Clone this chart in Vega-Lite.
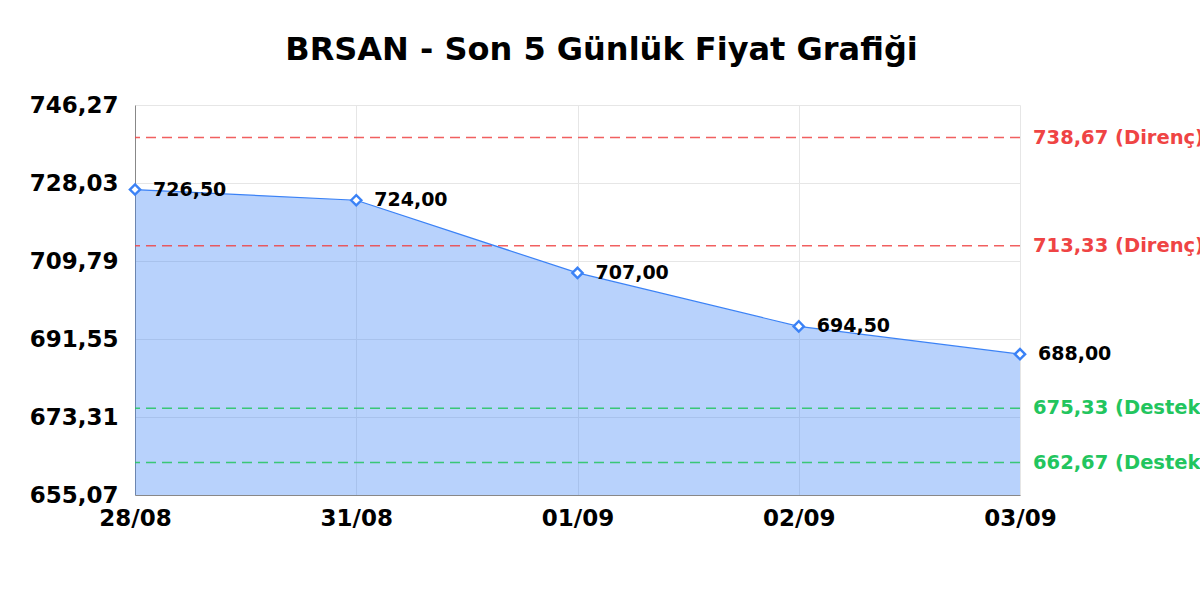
{
  "$schema": "https://vega.github.io/schema/vega-lite/v6.json",
  "description": "BRSAN son 5 günlük fiyat grafiği",
  "autosize": {"type": "none"},
  "padding": {"left": 135, "top": 105, "right": 180, "bottom": 105},
  "width": 885,
  "height": 390,
  "title": {
    "text": "BRSAN - Son 5 Günlük Fiyat Grafiği",
    "font": "DejaVu Sans",
    "fontSize": 32,
    "fontWeight": "bold",
    "color": "#000000",
    "frame": "group",
    "offset": 27,
    "dx": 24
  },
  "datasets": {
    "fiyat": [
      {"tarih": "28/08", "fiyat": 726.5},
      {"tarih": "31/08", "fiyat": 724.0},
      {"tarih": "01/09", "fiyat": 707.0},
      {"tarih": "02/09", "fiyat": 694.5},
      {"tarih": "03/09", "fiyat": 688.0}
    ],
    "seviyeler": [
      {"deger": 738.67, "tur": "Direnç", "etiket": "738,67 (Direnç)"},
      {"deger": 713.33, "tur": "Direnç", "etiket": "713,33 (Direnç)"},
      {"deger": 675.33, "tur": "Destek", "etiket": "675,33 (Destek)"},
      {"deger": 662.67, "tur": "Destek", "etiket": "662,67 (Destek)"}
    ]
  },
  "layer": [
    {
      "data": {"name": "fiyat"},
      "mark": {"type": "area", "color": "#3b82f6", "opacity": 0.36, "clip": true},
      "encoding": {
        "x": {
          "field": "tarih",
          "type": "ordinal",
          "sort": null,
          "scale": {"type": "point", "padding": 0},
          "axis": {
            "title": null,
            "labelAngle": 0,
            "labelFont": "DejaVu Sans",
            "labelFontSize": 23,
            "labelFontWeight": "bold",
            "labelColor": "#000000",
            "labelPadding": 12,
            "ticks": false,
            "domainColor": "#888888",
            "gridColor": "#e6e6e6",
            "grid": true
          }
        },
        "y": {
          "field": "fiyat",
          "type": "quantitative",
          "scale": {"domain": [655.07, 746.27], "nice": false, "zero": false},
          "axis": {
            "title": null,
            "values": [655.07, 673.31, 691.55, 709.79, 728.03, 746.27],
            "format": ".2f",
            "labelFont": "DejaVu Sans",
            "labelFontSize": 23,
            "labelFontWeight": "bold",
            "labelColor": "#000000",
            "labelPadding": 17,
            "ticks": false,
            "domainColor": "#888888",
            "gridColor": "#e6e6e6"
          }
        }
      }
    },
    {
      "data": {"name": "seviyeler"},
      "mark": {"type": "rule", "strokeDash": [10, 6], "strokeWidth": 1.5, "opacity": 0.85},
      "encoding": {
        "y": {"field": "deger", "type": "quantitative"},
        "color": {
          "field": "tur",
          "type": "nominal",
          "scale": {"domain": ["Direnç", "Destek"], "range": ["#ef4444", "#22c55e"]},
          "legend": null
        }
      }
    },
    {
      "data": {"name": "seviyeler"},
      "mark": {
        "type": "text",
        "align": "left",
        "baseline": "middle",
        "dx": 13,
        "font": "DejaVu Sans",
        "fontSize": 19.5,
        "fontWeight": "bold"
      },
      "encoding": {
        "x": {"datum": "03/09"},
        "y": {"field": "deger", "type": "quantitative"},
        "text": {"field": "etiket"},
        "color": {"field": "tur", "type": "nominal", "legend": null}
      }
    },
    {
      "data": {"name": "fiyat"},
      "mark": {"type": "line", "color": "#3b82f6", "strokeWidth": 1.2},
      "encoding": {
        "x": {"field": "tarih", "type": "ordinal", "sort": null},
        "y": {"field": "fiyat", "type": "quantitative"}
      }
    },
    {
      "data": {"name": "fiyat"},
      "mark": {
        "type": "point",
        "shape": "diamond",
        "filled": true,
        "fill": "#ffffff",
        "stroke": "#3b82f6",
        "strokeWidth": 2.4,
        "size": 105,
        "opacity": 1
      },
      "encoding": {
        "x": {"field": "tarih", "type": "ordinal", "sort": null},
        "y": {"field": "fiyat", "type": "quantitative"}
      }
    },
    {
      "data": {"name": "fiyat"},
      "mark": {
        "type": "text",
        "align": "left",
        "baseline": "middle",
        "dx": 18,
        "font": "DejaVu Sans",
        "fontSize": 19,
        "fontWeight": "bold",
        "color": "#000000"
      },
      "encoding": {
        "x": {"field": "tarih", "type": "ordinal", "sort": null},
        "y": {"field": "fiyat", "type": "quantitative"},
        "text": {"field": "fiyat", "type": "quantitative", "format": ".2f"}
      }
    }
  ],
  "config": {
    "locale": {
      "number": {"decimal": ",", "thousands": ".", "grouping": [3], "currency": ["", " TL"]}
    },
    "view": {"stroke": null},
    "background": "#ffffff"
  }
}
